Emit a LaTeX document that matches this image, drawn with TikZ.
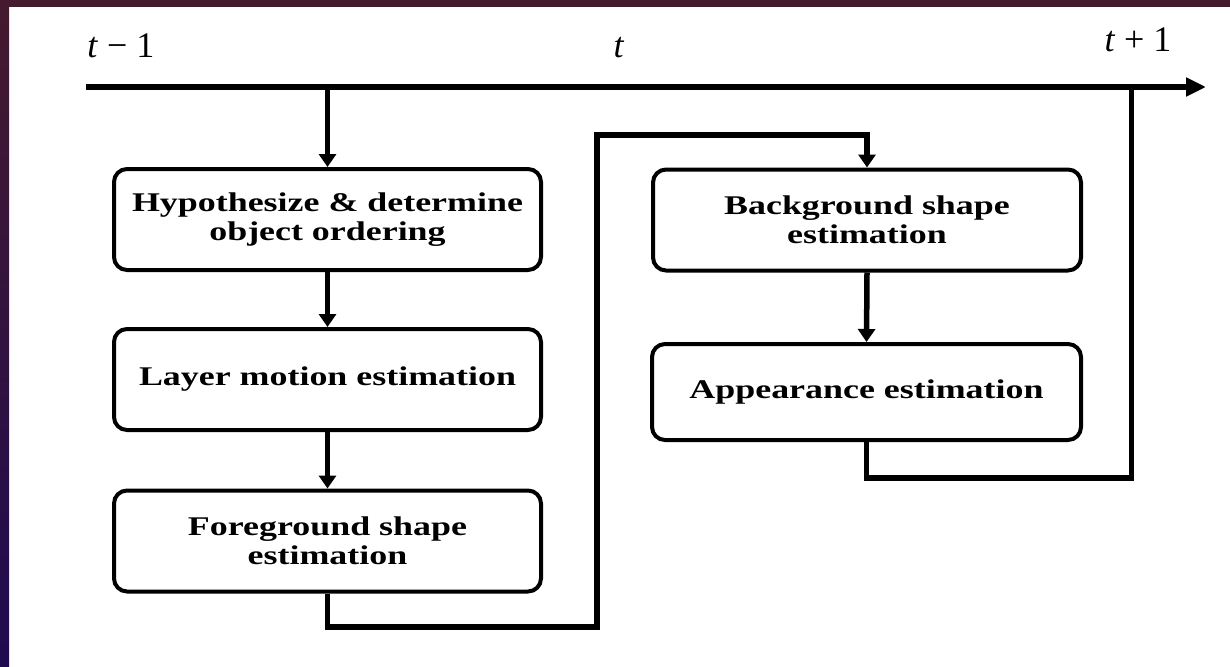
\documentclass[tikz,border=0pt]{standalone}
\usepackage{fontspec}
\setmainfont{Liberation Serif}
\newfontfamily\boxfont[FakeStretch=1.33]{Liberation Serif}
\usetikzlibrary{arrows.meta}
\definecolor{framemaroon}{HTML}{451A2E}
\definecolor{framenavy}{HTML}{1F0B50}
\begin{document}
\begin{tikzpicture}[x=1pt,y=-1pt,
  stagebox/.style={draw=black,line width=4pt,rounded corners=13pt,fill=white,
    minimum width=427pt,minimum height=101pt,align=center,inner sep=0pt,
    font=\boxfont\bfseries\fontsize{27}{29}\selectfont},
  conn/.style={line width=5.5pt,draw=black},
  tip/.style={-{Triangle[width=17pt,length=13pt]}},
  ticklabel/.style={anchor=base,inner sep=0pt,font=\fontsize{36}{40}\selectfont}]
\useasboundingbox (0,0) rectangle (1230,666);
\fill[white] (0,0) rectangle (1230,666);
\shade[top color=framemaroon,bottom color=framenavy] (0,0) rectangle (9,666);
\fill[framemaroon] (0,0) rectangle (1230,7);

% time axis
\coordinate (axstart) at (86,87);
\coordinate (axend) at (1206,87);
\draw[conn,-{Triangle[width=18pt,length=20pt]}] (axstart) -- (axend);
\node[ticklabel] (lprev) at (121,58) {\textit{t} − 1};
\node[ticklabel] (lcur) at (619,58) {\textit{t}};
\node[ticklabel] (lnext) at (1138,52) {\textit{t} + 1};

% boxes
\node[stagebox] (hyp) at (327.5,219.5) {Hypothesize \& determine\\object ordering};
\node[stagebox] (layer) at (327.5,379.5) {Layer motion estimation};
\node[stagebox] (fg) at (327.5,541) {Foreground shape\\estimation};
\node[stagebox,minimum width=428pt] (bg) at (867,220) {Background shape\\estimation};
\node[stagebox,minimum width=429pt,minimum height=96pt] (app) at (866.5,392) {Appearance estimation};

% connectors
\coordinate (tin) at (327.5,87);
\draw[conn,tip] (tin) -- (hyp.north);
\draw[conn,tip] (hyp.south) -- (layer.north);
\draw[conn,tip] (layer.south) -- (fg.north);

\coordinate (lpA) at (597,627);
\coordinate (lpB) at (867,135);
\draw[conn,tip] (fg.south) |- (lpA) |- (lpB) -- (bg.north);
\draw[conn,tip] (bg.south) -- (app.north);

\coordinate (rtA) at (1131.5,478);
\coordinate (rtB) at (1131.5,87);
\draw[conn] (app.south) |- (rtA) -- (rtB);
\end{tikzpicture}
\end{document}
